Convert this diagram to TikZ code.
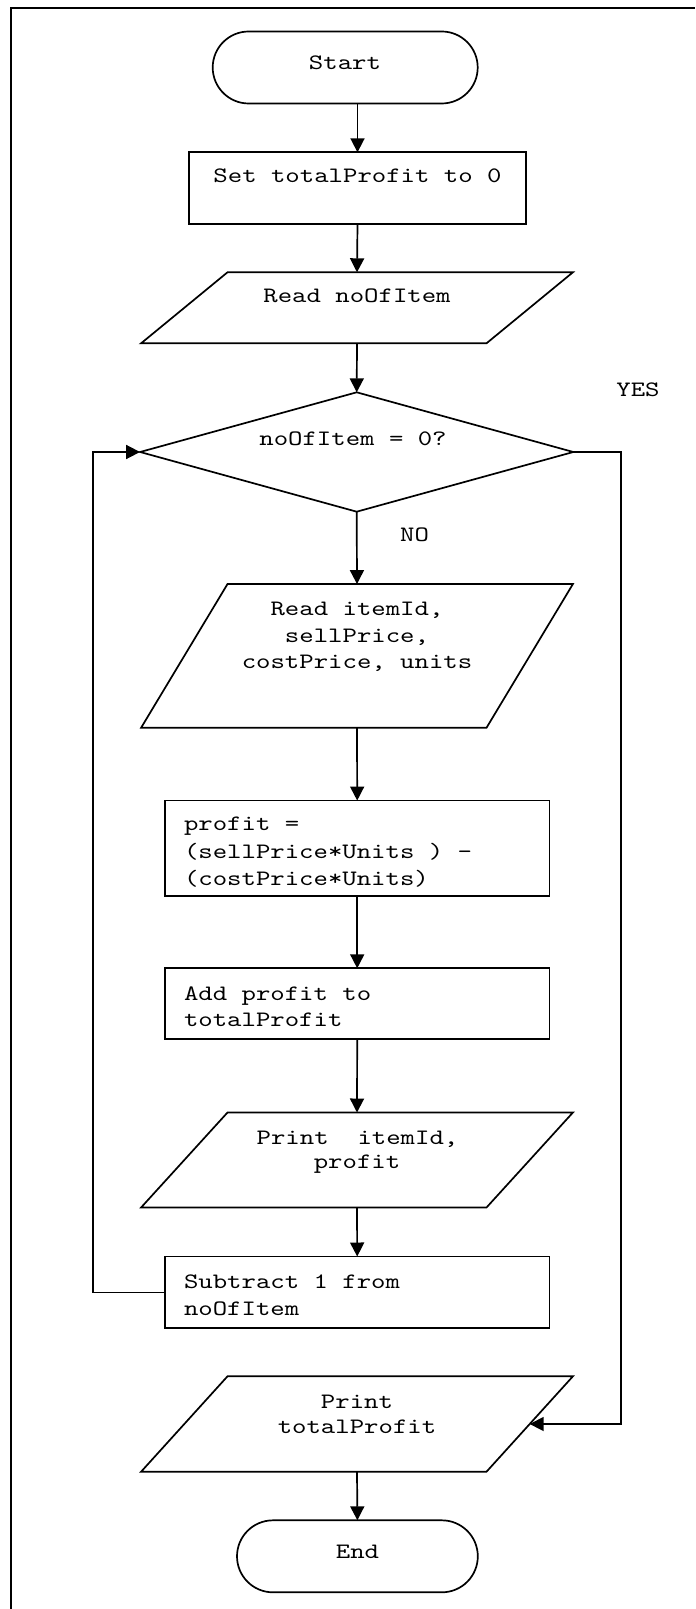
\documentclass[tikz,border=0pt]{standalone}
\usepackage{fontspec}
\newfontfamily\courfont{lmmono10-regular.otf}[FakeStretch=1.247]
\usetikzlibrary{arrows.meta,shapes.geometric,shapes.misc,calc}

\begin{document}
\begin{tikzpicture}[x=0.5pt,y=-0.5pt,line width=0.85pt,
  every node/.style={inner sep=0pt,outer sep=0pt},
  term/.style={rounded rectangle,draw,minimum height=36pt},
  proc/.style={rectangle,draw,minimum width=192.2pt},
  io/.style={rectangle,minimum width=215.9pt},
  decision/.style={diamond,draw,minimum width=216.6pt,minimum height=59.7pt},
  txt/.style={font=\courfont\fontsize{11}{13}\selectfont,anchor=base},
  txtl/.style={txt,anchor=base west},
  arr/.style={-{Triangle[length=7pt,width=7pt]}}]

\useasboundingbox (0,0) rectangle (695,1609);

% page frame (top and left edges)
\draw (11,1609) -- (11,8.3) -- (695,8.3);

% shapes
\node[term,minimum width=132.5pt] (tStart) at (345.2,67.5) {};
\node[proc,minimum width=168.2pt,minimum height=35.85pt] (setT) at (357.5,188.2) {};
\node[io,minimum height=35.5pt] (readN) at (357,307.8) {};
\node[decision] (dec) at (356.7,452) {};
\node[io,minimum height=71.85pt] (readI) at (357,655.9) {};
\node[proc,minimum height=47.85pt] (prof) at (357.2,848.4) {};
\node[proc,minimum height=35.5pt] (addP) at (357.2,1003.8) {};
\node[io,minimum height=47.5pt] (printI) at (357,1160) {};
\node[proc,minimum height=35.9pt] (subT) at (357.2,1292.4) {};
\node[io,minimum height=47.7pt] (printT) at (357,1424) {};
\node[term,minimum width=120.4pt] (tEnd) at (357.4,1556.3) {};

% input/output parallelograms
\foreach \n in {readN,readI,printI,printT}
  \draw (\n.south west) -- ([xshift=-43.2pt]\n.south east) -- (\n.north east)
        -- ([xshift=43.2pt]\n.north west) -- cycle;

% texts
\node[txt] (tx0) at (345,69.3) {Start};
\node[txt] (tx1) at (357.5,182.7) {Set totalProfit to 0};
\node[txt] (tx2) at (357,302.6) {Read noOfItem};
\node[txt] (tx3) at (353,445.7) {noOfItem = 0?};
\node[txt] (tyes) at (638,396.7) {YES};
\node[txt] (tno) at (414.5,541.7) {NO};
\node[txt] (tx4a) at (357,615.7) {Read itemId,};
\node[txt] (tx4b) at (357,642.5) {sellPrice,};
\node[txt] (tx4c) at (357,668.3) {costPrice, units};
\begin{scope}
  \clip (prof.north west) rectangle (549.3,886);
  \node[txtl] (tx5a) at (184,830.7) {profit =};
  \node[txtl] (tx5b) at (184,858) {(sellPrice*Units ) –};
  \node[txtl] (tx5c) at (184,885) {(costPrice*Units)};
\end{scope}
\node[txtl] (tx6a) at (184,1000) {Add profit to};
\node[txtl] (tx6b) at (184,1026.7) {totalProfit};
\node[txt] (tx7a) at (357.5,1144.5) {Print\ \ itemId,};
\node[txt] (tx7b) at (357,1168.3) {profit};
\node[txtl] (tx8a) at (184,1288.3) {Subtract 1 from};
\node[txtl] (tx8b) at (184,1315) {noOfItem};
\node[txt] (tx9a) at (357,1408.3) {Print};
\node[txt] (tx9b) at (357,1433.3) {totalProfit};
\node[txt] (tx10) at (357.5,1558.3) {End};

% connectors
\coordinate (rtop) at (621,452);
\coordinate (ltop) at (93,452);
\coordinate (printTin) at ($(printT.north east)!0.5!([xshift=-43.2pt]printT.south east)$);

\draw[arr] (tStart.south -| setT.north) -- (setT.north);
\draw[arr] (setT.south) -- (readN.north);
\draw[arr] (readN.south) -- (dec.north);
\draw[arr] (dec.south) -- (readI.north);
\draw[arr] (readI.south) -- (prof.north);
\draw[arr] (prof.south) -- (addP.north);
\draw[arr] (addP.south) -- (printI.north);
\draw[arr] (printI.south) -- (subT.north);
\draw[arr] (subT.west) -| (ltop) -- (dec.west);
\draw[arr] (dec.east) -- (rtop) |- (printTin);
\draw[arr] (printT.south) -- (tEnd.north);

\end{tikzpicture}
\end{document}
